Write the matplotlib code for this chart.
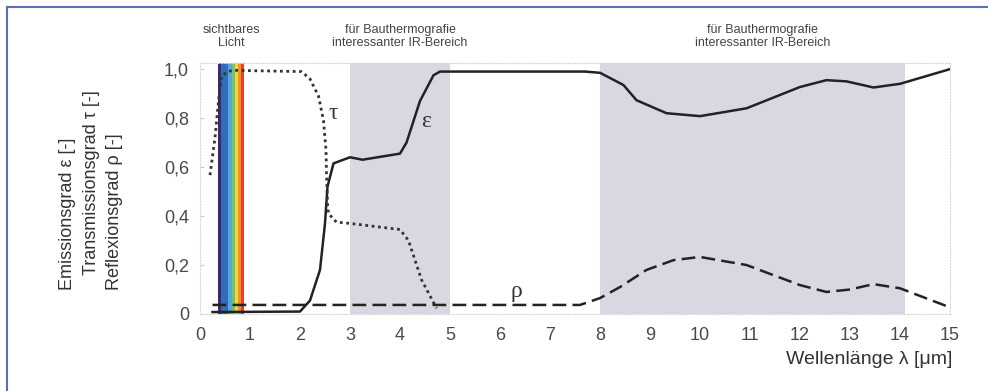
import matplotlib.pyplot as plt
from matplotlib.lines import Line2D

plt.rcParams['font.family'] = ['Liberation Sans', 'DejaVu Sans']

# emission (solid)
eps_x = [0.25, 2.0, 2.2, 2.4, 2.5, 2.55, 2.67, 3.0, 3.25, 4.0, 4.13, 4.4, 4.67, 4.8,
         7.7, 8.0, 8.47, 8.73, 9.33, 10.0, 10.93, 12.0, 12.53, 12.93, 13.47, 14.0, 15.0]
eps_y = [0.008, 0.01, 0.055, 0.18, 0.37, 0.52, 0.615, 0.64, 0.63, 0.655, 0.70, 0.87, 0.975, 0.99,
         0.99, 0.985, 0.935, 0.873, 0.82, 0.808, 0.84, 0.927, 0.955, 0.95, 0.925, 0.94, 1.0]

# transmission (dotted)
tau_x = [0.2, 0.3, 0.37, 0.43, 0.55, 0.67, 2.03, 2.2, 2.37, 2.47, 2.52, 2.53, 2.55, 2.57,
         2.73, 3.0, 4.0, 4.17, 4.43, 4.73]
tau_y = [0.567, 0.72, 0.87, 0.97, 0.99, 0.995, 0.99, 0.96, 0.89, 0.79, 0.67, 0.575, 0.45, 0.41,
         0.375, 0.37, 0.345, 0.30, 0.14, 0.024]

# reflection (dashed)
rho_x = [0.25, 7.6, 8.0, 8.4, 8.93, 9.47, 10.0, 10.93, 12.0, 12.53, 13.0, 13.47, 14.0, 15.0]
rho_y = [0.037, 0.037, 0.065, 0.11, 0.18, 0.22, 0.233, 0.2, 0.118, 0.09, 0.1, 0.122, 0.105, 0.027]

ir_bands = [(3, 5), (8, 14.1)]
spec_edges = [0.36, 0.42, 0.56, 0.64, 0.70, 0.76, 0.82, 0.88]
spec_colors = ['#3b2a6e', '#2f6db8', '#56a6dc', '#7cbf6a', '#f2d43c', '#f0902e', '#e8402a']

xticks = list(range(16))
yticks = [0, 0.2, 0.4, 0.6, 0.8, 1.0]
ytick_labels = ['0', '0,2', '0,4', '0,6', '0,8', '1,0']

fig = plt.figure(figsize=(9.88, 3.91), dpi=100)
ax = fig.add_axes([200 / 988, 1 - 314 / 391, 750 / 988, 251 / 391])

for a, b in ir_bands:
    ax.axvspan(a, b, color='#d9d8e2', lw=0, zorder=0)
for i, c in enumerate(spec_colors):
    ax.axvspan(spec_edges[i], spec_edges[i + 1], color=c, lw=0, zorder=1)

ax.plot(eps_x, eps_y, color='#222222', lw=1.8, zorder=3)
ax.plot(tau_x, tau_y, color='#333333', lw=2.0, ls=(0, (1, 1.3)), zorder=3)
ax.plot(rho_x, rho_y, color='#222222', lw=1.8, ls=(0, (5.5, 2.5)), zorder=3)

ax.text(2.67, 0.82, 'τ', fontsize=17, family='Liberation Serif', color='#333333',
        ha='center', va='center')
ax.text(4.53, 0.785, 'ε', fontsize=17, family='Liberation Serif', color='#333333',
        ha='center', va='center')
ax.text(6.33, 0.09, 'ρ', fontsize=17, family='Liberation Serif', color='#333333',
        ha='center', va='center')

ax.set_xlim(0, 15)
ax.set_ylim(0, 1.025)
ax.set_xticks(xticks)
ax.set_yticks(yticks)
ax.set_yticklabels(ytick_labels)
ax.tick_params(axis='x', length=0, pad=9, labelsize=13, labelcolor='#4a4a4a')
ax.tick_params(axis='y', length=3, direction='in', color='#cccccc', pad=8,
               labelsize=13, labelcolor='#4a4a4a')
for s in ax.spines.values():
    s.set_color('#d8d8d8')
    s.set_linestyle(':')
    s.set_linewidth(0.8)

# band captions
ax.text(0.62, 1.105, 'sichtbares\nLicht', transform=ax.get_xaxis_transform(), ha='center',
        va='center', fontsize=9, color='#444444', linespacing=1.15)
ax.text(4.0, 1.105, 'für Bauthermografie\ninteressanter IR-Bereich', transform=ax.get_xaxis_transform(),
        ha='center', va='center', fontsize=9, color='#444444', linespacing=1.15)
ax.text(11.25, 1.105, 'für Bauthermografie\ninteressanter IR-Bereich', transform=ax.get_xaxis_transform(),
        ha='center', va='center', fontsize=9, color='#444444', linespacing=1.15)

# y labels (three lines)
fig.text(67 / 988, 1 - 290 / 391, 'Emissionsgrad ε [-]', rotation=90, ha='center', va='bottom',
         fontsize=13, color='#333333')
fig.text(91 / 988, 1 - 275 / 391, 'Transmissionsgrad τ [-]', rotation=90, ha='center', va='bottom',
         fontsize=13, color='#333333')
fig.text(114 / 988, 1 - 290 / 391, 'Reflexionsgrad ρ [-]', rotation=90, ha='center', va='bottom',
         fontsize=13, color='#333333')

fig.text(952 / 988, 1 - 360 / 391, 'Wellenlänge λ [μm]', ha='right', va='center',
         fontsize=14, color='#333333')

# page frame
fig.add_artist(Line2D([7 / 988, 7 / 988], [0, 1 - 7 / 391], color='#5b6fb8', lw=1.5))
fig.add_artist(Line2D([7 / 988, 1], [1 - 7 / 391, 1 - 7 / 391], color='#5b6fb8', lw=1.5))

fig.savefig('out.png', dpi=100)
